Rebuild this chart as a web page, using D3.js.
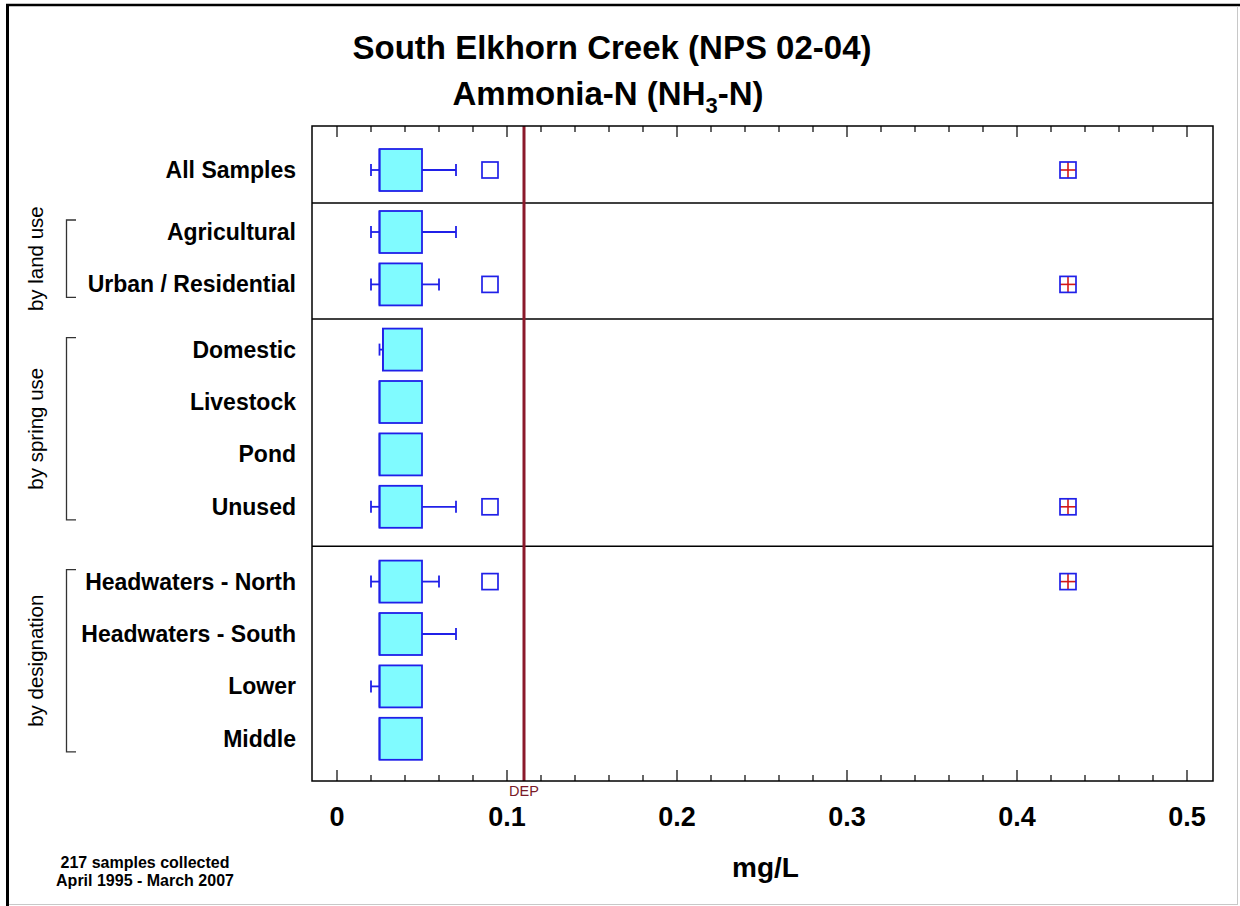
<!DOCTYPE html>
<html>
<head>
<meta charset="utf-8">
<script src="https://cdn.jsdelivr.net/npm/d3@7"></script>
<style>
  body { margin: 0; background: #fff; }
  svg { display: block; }
  text { font-family: "Liberation Sans", Arial, Helvetica, sans-serif; }
</style>
</head>
<body>
<svg id="chart" width="1240" height="906"></svg>
<script>
// ---- data: ammonia-N summary statistics (mg/L) per sample category ----
const categories = [
  "All Samples",
  "Agricultural", "Urban / Residential",
  "Domestic", "Livestock", "Pond", "Unused",
  "Headwaters - North", "Headwaters - South", "Lower", "Middle"
];
const groupOf = [0, 1, 1, 2, 2, 2, 2, 3, 3, 3, 3];
const groupNames = ["", "by land use", "by spring use", "by designation"];

const whiskerLow  = [0.02, 0.02, 0.02, 0.025, null, null, 0.02, 0.02, null, 0.02, null];
const q1          = [0.025, 0.025, 0.025, 0.027, 0.025, 0.025, 0.025, 0.025, 0.025, 0.025, 0.025];
const median      = [0.025, 0.025, 0.025, 0.027, 0.025, 0.025, 0.025, 0.025, 0.025, 0.025, 0.025];
const q3          = [0.05, 0.05, 0.05, 0.05, 0.05, 0.05, 0.05, 0.05, 0.05, 0.05, 0.05];
const whiskerHigh = [0.07, 0.07, 0.06, null, null, null, 0.07, 0.06, 0.07, null, null];
const outliers    = [[0.09], [], [0.09], [], [], [], [0.09], [0.09], [], [], []];
const extremes    = [[0.43], [], [0.43], [], [], [], [0.43], [0.43], [], [], []];

const xTickValues = [0, 0.1, 0.2, 0.3, 0.4, 0.5];
const xTickLabels = ["0", "0.1", "0.2", "0.3", "0.4", "0.5"];
const depLimit = 0.11;

// ---- layout ----
const plot = { left: 312, right: 1213, top: 126, bottom: 781 };
const rowStep = 52.4;
const firstRowY = 170;
const groupGap = [0, 9.6, 12.8, 22.4];   // extra space before each group
const boxH = 42;

const BOX_FILL = "#80fbff", BLUE = "#2020e8", RED = "#d41818", DEP_COL = "#8b1a2b";

const svg = d3.select("#chart");
svg.append("rect").attr("width", 1240).attr("height", 906).attr("fill", "#fff");

// page frame
svg.append("line").attr("x1", 7.5).attr("x2", 7.5).attr("y1", 4).attr("y2", 906)
  .attr("stroke", "#000").attr("stroke-width", 3);
svg.append("line").attr("x1", 6).attr("x2", 1240).attr("y1", 5).attr("y2", 5)
  .attr("stroke", "#000").attr("stroke-width", 2.5);
svg.append("line").attr("x1", 1237.5).attr("x2", 1237.5).attr("y1", 6).attr("y2", 904)
  .attr("stroke", "#c8c8c8").attr("stroke-width", 1);
svg.append("line").attr("x1", 9).attr("x2", 1238).attr("y1", 904.5).attr("y2", 904.5)
  .attr("stroke", "#c8c8c8").attr("stroke-width", 1);

// scales
const x = d3.scaleLinear().domain([0, 0.5]).range([337, 1187]);
const rowY = categories.map((c, i) => {
  let extra = 0;
  for (let g = 1; g <= groupOf[i]; g++) extra += groupGap[g];
  return firstRowY + i * rowStep + extra;
});
const y = d3.scaleOrdinal().domain(categories).range(rowY);

// titles
svg.append("text").attr("x", 612).attr("y", 59).attr("text-anchor", "middle")
  .attr("font-size", 33).attr("font-weight", "bold").text("South Elkhorn Creek (NPS 02-04)");
const t2 = svg.append("text").attr("x", 608).attr("y", 105).attr("text-anchor", "middle")
  .attr("font-size", 33).attr("font-weight", "bold");
t2.append("tspan").text("Ammonia-N (NH");
t2.append("tspan").attr("dy", 8).attr("font-size", 22).text("3");
t2.append("tspan").attr("dy", -8).text("-N)");

// group dividers
const dividers = [];
for (let i = 1; i < categories.length; i++) {
  if (groupOf[i] !== groupOf[i - 1]) dividers.push((rowY[i - 1] + rowY[i]) / 2 + 2);
}
svg.selectAll(".divider").data(dividers).join("line")
  .attr("x1", plot.left).attr("x2", plot.right)
  .attr("y1", d => d).attr("y2", d => d)
  .attr("stroke", "#000").attr("stroke-width", 1.5);

// ticks (inward, top and bottom)
const minorTicks = x.ticks(25);
const isMajor = v => xTickValues.some(t => Math.abs(t - v) < 1e-9);
const tickG = svg.append("g");
minorTicks.forEach(v => {
  const len = isMajor(v) ? 11 : 6;
  tickG.append("line").attr("x1", x(v)).attr("x2", x(v))
    .attr("y1", plot.bottom).attr("y2", plot.bottom - len)
    .attr("stroke", "#000").attr("stroke-width", 1.2);
  tickG.append("line").attr("x1", x(v)).attr("x2", x(v))
    .attr("y1", plot.top).attr("y2", plot.top + len)
    .attr("stroke", "#000").attr("stroke-width", 1.2);
});

// tick labels
svg.selectAll(".xlab").data(xTickValues).join("text")
  .attr("x", d => x(d)).attr("y", 826).attr("text-anchor", "middle")
  .attr("font-size", 27).attr("font-weight", "bold")
  .text((d, i) => xTickLabels[i]);

svg.append("text").attr("x", (plot.left + plot.right) / 2 + 3).attr("y", 877)
  .attr("text-anchor", "middle").attr("font-size", 28).attr("font-weight", "bold").text("mg/L");

// DEP criterion line
svg.append("line").attr("x1", x(depLimit)).attr("x2", x(depLimit))
  .attr("y1", plot.top).attr("y2", plot.bottom)
  .attr("stroke", DEP_COL).attr("stroke-width", 3);
svg.append("text").attr("x", x(depLimit)).attr("y", 796).attr("text-anchor", "middle")
  .attr("font-size", 14.5).attr("fill", "#7a1a28").text("DEP");

// boxes
const rows = categories.map((c, i) => ({
  c, i, wl: whiskerLow[i], q1: q1[i], med: median[i], q3: q3[i], wh: whiskerHigh[i],
  out: outliers[i], ext: extremes[i]
}));
const rowG = svg.selectAll(".row").data(rows).join("g")
  .attr("transform", d => `translate(0,${y(d.c)})`);

rowG.filter(d => d.wl != null).each(function (d) {
  const g = d3.select(this);
  g.append("line").attr("x1", x(d.wl)).attr("x2", x(d.q1)).attr("y1", 0).attr("y2", 0)
    .attr("stroke", BLUE).attr("stroke-width", 1.8);
  g.append("line").attr("x1", x(d.wl)).attr("x2", x(d.wl)).attr("y1", -6).attr("y2", 6)
    .attr("stroke", BLUE).attr("stroke-width", 1.8);
});
rowG.filter(d => d.wh != null).each(function (d) {
  const g = d3.select(this);
  g.append("line").attr("x1", x(d.q3)).attr("x2", x(d.wh)).attr("y1", 0).attr("y2", 0)
    .attr("stroke", BLUE).attr("stroke-width", 1.8);
  g.append("line").attr("x1", x(d.wh)).attr("x2", x(d.wh)).attr("y1", -6).attr("y2", 6)
    .attr("stroke", BLUE).attr("stroke-width", 1.8);
});
rowG.append("rect")
  .attr("x", d => x(d.q1)).attr("width", d => x(d.q3) - x(d.q1))
  .attr("y", -boxH / 2).attr("height", boxH)
  .attr("fill", BOX_FILL).attr("stroke", BLUE).attr("stroke-width", 1.8);
rowG.append("line")
  .attr("x1", d => x(d.med)).attr("x2", d => x(d.med))
  .attr("y1", -boxH / 2).attr("y2", boxH / 2)
  .attr("stroke", BLUE).attr("stroke-width", 1.8);

// outliers: open squares; far values: squares with a red cross
const sq = 16;
rowG.each(function (d) {
  const g = d3.select(this);
  d.out.forEach(v => {
    g.append("rect").attr("x", x(v) - sq / 2).attr("y", -sq / 2)
      .attr("width", sq).attr("height", sq)
      .attr("fill", "none").attr("stroke", BLUE).attr("stroke-width", 1.7);
  });
  d.ext.forEach(v => {
    g.append("line").attr("x1", x(v) - sq / 2).attr("x2", x(v) + sq / 2)
      .attr("y1", 0).attr("y2", 0).attr("stroke", RED).attr("stroke-width", 1.6);
    g.append("line").attr("x1", x(v)).attr("x2", x(v))
      .attr("y1", -sq / 2).attr("y2", sq / 2).attr("stroke", RED).attr("stroke-width", 1.6);
    g.append("rect").attr("x", x(v) - sq / 2).attr("y", -sq / 2)
      .attr("width", sq).attr("height", sq)
      .attr("fill", "none").attr("stroke", BLUE).attr("stroke-width", 1.7);
  });
});

// plot frame
svg.append("rect").attr("x", plot.left).attr("y", plot.top)
  .attr("width", plot.right - plot.left).attr("height", plot.bottom - plot.top)
  .attr("fill", "none").attr("stroke", "#000").attr("stroke-width", 1.5);

// category labels
svg.selectAll(".catlab").data(categories).join("text")
  .attr("x", 296).attr("y", d => y(d) + 8).attr("text-anchor", "end")
  .attr("font-size", 23).attr("font-weight", "bold").text(d => d);

// group brackets and rotated labels
for (let g = 1; g < groupNames.length; g++) {
  const ys = rowY.filter((v, i) => groupOf[i] === g);
  const top = d3.min(ys) - 12, bot = d3.max(ys) + 13;
  svg.append("path")
    .attr("d", `M76,${top}H66.5V${bot}H76`)
    .attr("fill", "none").attr("stroke", "#333").attr("stroke-width", 1.3);
  svg.append("text")
    .attr("transform", `translate(43,${(top + bot) / 2}) rotate(-90)`)
    .attr("text-anchor", "middle").attr("font-size", 20.5).text(groupNames[g]);
}

// sampling note
const note = svg.append("text").attr("x", 145).attr("text-anchor", "middle")
  .attr("font-size", 16).attr("font-weight", "bold");
note.append("tspan").attr("x", 145).attr("y", 868).text("217 samples collected");
note.append("tspan").attr("x", 145).attr("y", 886).text("April 1995 - March 2007");
</script>
</body>
</html>
